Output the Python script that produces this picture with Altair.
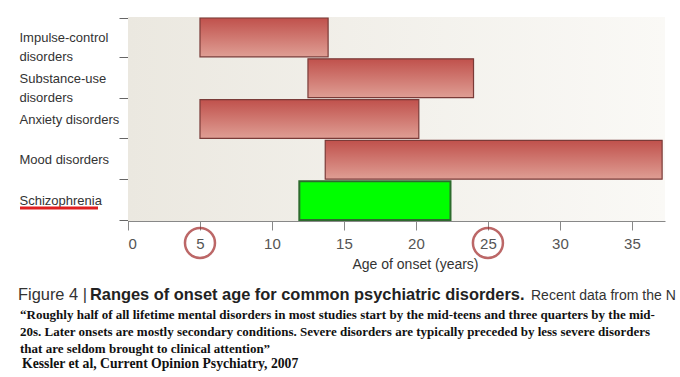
import altair as alt
import pandas as pd

categories = ["Impulse-control\ndisorders", "Substance-use\ndisorders", "Anxiety disorders", "Mood disorders", "Schizophrenia"]
onset_start = [5.0, 12.5, 5.0, 13.7, 11.9]
onset_end = [13.9, 24.0, 20.2, 37.1, 22.4]
highlight = [False, False, False, False, True]
x_ticks = [0, 5, 10, 15, 20, 25, 30, 35]
circled_ticks = [5, 25]

caption_parts = ["Figure 4 |", "Ranges of onset age for common psychiatric disorders.", "Recent data from the N"]
quote_lines = [
    "\u201cRoughly half of all lifetime mental disorders in most studies start by the mid-teens and three quarters by the mid-",
    "20s. Later onsets are mostly secondary conditions. Severe disorders are typically preceded by less severe disorders",
    "that are seldom brought to clinical attention\u201d",
]
citation = "Kessler et al, Current Opinion Psychiatry, 2007"

W, H = 537, 204
SANS = "Liberation Sans, Arial, sans-serif"
SERIF = "Liberation Serif, serif"

df = pd.DataFrame({"cat": categories, "start": onset_start, "end": onset_end, "hl": highlight})

bg = alt.Chart(pd.DataFrame({"a": [0]})).mark_rect(
    color=alt.Gradient(gradient="linear", x1=0, x2=1, y1=0, y2=0,
                       stops=[alt.GradientStop(color="#ebe8e0", offset=0),
                              alt.GradientStop(color="#faf9f6", offset=1)])
).encode(x=alt.value(0), x2=alt.value(W), y=alt.value(0), y2=alt.value(H))

xenc = alt.X("start:Q", scale=alt.Scale(domain=[0, 37.3], nice=False, zero=False),
             axis=alt.Axis(values=x_ticks, title="Age of onset (years)", grid=False,
                           domainColor="#888", tickColor="#888", tickSize=9,
                           labelColor="#555", labelFont=SANS, labelFontSize=15, labelPadding=6,
                           titleFont=SANS, titleFontSize=14, titleFontWeight="normal",
                           titleColor="#333", titleX=287, titleY=47, titleBaseline="alphabetic"))
yenc = alt.Y("cat:N", sort=categories,
             scale=alt.Scale(paddingInner=0.05, paddingOuter=0.025),
             axis=alt.Axis(title=None, tickBand="extent", domainColor="#666", tickColor="#666",
                           tickSize=9, labelAlign="left", labelPadding=100, labelLimit=200,
                           labelExpr="split(datum.label, '\\n')", labelLineHeight=19,
                           labelFont=SANS, labelFontSize=13, labelColor="#333"))

red_bars = alt.Chart(df).transform_filter("!datum.hl").mark_bar(
    color=alt.Gradient(gradient="linear", x1=0, x2=0, y1=0, y2=1,
                       stops=[alt.GradientStop(color="#c0514c", offset=0),
                              alt.GradientStop(color="#df9e94", offset=1)]),
    stroke="#7a3b38", strokeWidth=1.2
).encode(x=xenc, x2="end:Q", y=yenc)

green_bar = alt.Chart(df).transform_filter("datum.hl").mark_bar(
    color="#00ff00", stroke="#2d6b2d", strokeWidth=2
).encode(x="start:Q", x2="end:Q", y=alt.Y("cat:N", sort=categories))

circles = alt.Chart(pd.DataFrame({"v": circled_ticks})).mark_point(
    shape="circle", size=900, filled=False, stroke="#a02828", strokeWidth=2.5
).encode(x="v:Q", y=alt.value(243 - 17))

underline = alt.Chart(pd.DataFrame({"a": [0]})).mark_rule(
    color="#e02020", strokeWidth=3
).encode(x=alt.value(-108), x2=alt.value(-30), y=alt.value(191))


def txt(s, x, y, size, font, weight="normal", color="#222"):
    return alt.Chart(pd.DataFrame({"t": [s]})).mark_text(
        align="left", baseline="alphabetic", fontSize=size, font=font,
        fontWeight=weight, color=color
    ).encode(text="t:N", x=alt.value(x), y=alt.value(y))


texts = [
    txt(caption_parts[0], -110, 283, 16.4, SANS, "normal", "#333"),
    txt(caption_parts[1], -38, 283, 16.4, SANS, "bold", "#222"),
    txt(caption_parts[2], 403, 283, 14, SANS, "normal", "#333"),
    txt(quote_lines[0], -108, 302, 13, SERIF, "bold", "#111"),
    txt(quote_lines[1], -108, 319, 13, SERIF, "bold", "#111"),
    txt(quote_lines[2], -108, 336, 13, SERIF, "bold", "#111"),
    txt(citation, -106, 351, 13.7, SERIF, "bold", "#111"),
]

chart = alt.layer(bg, red_bars, green_bar, circles, underline, *texts).properties(
    width=W, height=H,
    autosize=alt.AutoSizeParams(type="none"),
    padding={"left": 128, "top": 17, "right": 15, "bottom": 156},
    background="white",
).configure_view(strokeWidth=0)

chart.save("out.html", embed_options={"renderer": "svg", "actions": False})
